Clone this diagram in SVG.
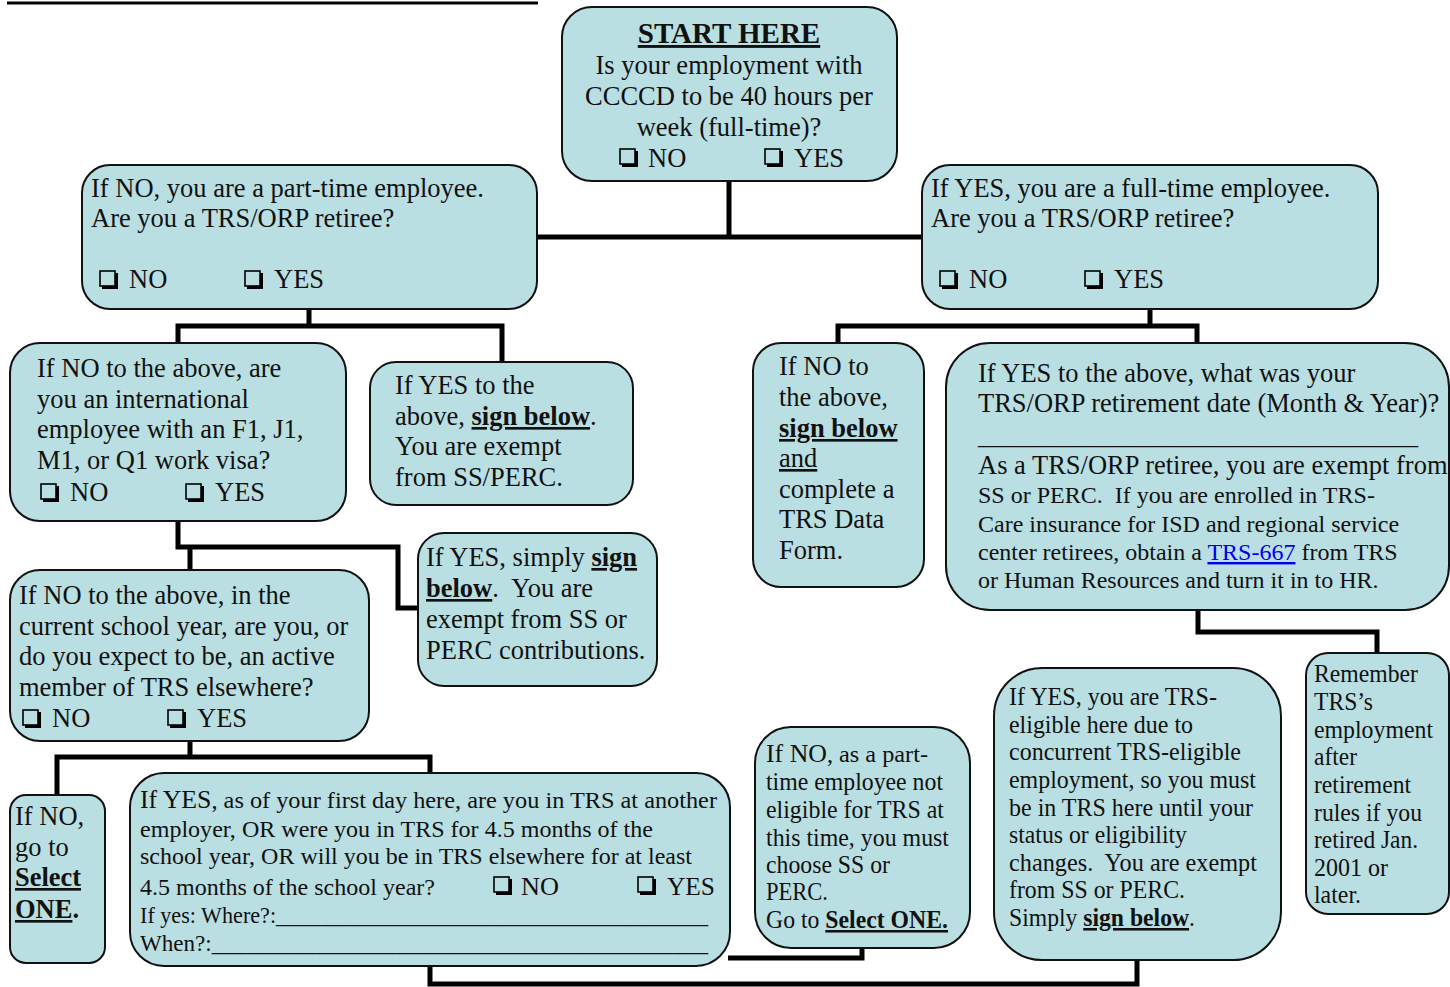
<svg xmlns="http://www.w3.org/2000/svg" xmlns:xlink="http://www.w3.org/1999/xlink" width="1450" height="987" viewBox="0 0 1450 987">
<style>
.box{fill:#b9dfe3;stroke:#111;stroke-width:2}
.t{font-family:"Liberation Serif","Times New Roman",serif;font-size:26.5px;fill:#111;white-space:pre}
.s{font-size:24px}
.c{font-family:"Liberation Serif","Times New Roman",serif;font-size:25.5px;fill:#111;white-space:pre}
.c24{font-size:24px}
.b{font-weight:bold}
.u{text-decoration:underline}
.lnk{fill:#0000ee;text-decoration:underline}
.con{fill:none;stroke:#000;stroke-width:5;stroke-linejoin:miter}
</style>
<defs>
<symbol id="cb" viewBox="0 0 20 20" width="20" height="20">
<rect x="1" y="1" width="15" height="15" fill="none" stroke="#000" stroke-width="1.6"/>
<path d="M3,17.5 H17.5 V3" fill="none" stroke="#000" stroke-width="3"/>
</symbol>
</defs>
<rect width="1450" height="987" fill="#fff"/>
<line x1="7" y1="3" x2="538" y2="3" stroke="#000" stroke-width="3"/>

<g id="connectors" class="con">
<path d="M729,181 V237 M537,237 H922"/>
<path d="M309,309 V326 M178,343 V326 H502 V362"/>
<path d="M1150,309 V326 M838,343 V326 H1197 V343"/>
<path d="M178,521 V547 H398 V608 H418 M190,547 V570"/>
<path d="M190,741 V757 M57,795 V757 H430 V773"/>
<path d="M1198,610 V632 H1377 V653"/>
<path d="M430,966 V984 H1137 V960"/>
<path d="M728,958 H862 V948"/>
</g>

<g id="start">
<rect class="box" x="562" y="7" width="335" height="174" rx="30"/>
<text class="t b u" x="729" y="43" text-anchor="middle" style="font-size:29px">START HERE</text>
<text class="t" x="729" y="74" text-anchor="middle">Is your employment with</text>
<text class="t" x="729" y="105" text-anchor="middle">CCCCD to be 40 hours per</text>
<text class="t" x="729" y="136" text-anchor="middle">week (full-time)?</text>
<use href="#cb" x="619" y="148"/><text class="t" x="648" y="167">NO</text>
<use href="#cb" x="764" y="148"/><text class="t" x="794" y="167">YES</text>
</g>

<g id="parttime">
<rect class="box" x="82" y="165" width="455" height="144" rx="28"/>
<text class="t" x="91" y="197">If NO, you are a part-time employee.</text>
<text class="t" x="91" y="227">Are you a TRS/ORP retiree?</text>
<use href="#cb" x="99" y="270"/><text class="t" x="129" y="288">NO</text>
<use href="#cb" x="244" y="270"/><text class="t" x="274" y="288">YES</text>
</g>

<g id="fulltime">
<rect class="box" x="922" y="165" width="456" height="144" rx="28"/>
<text class="t" x="931" y="197">If YES, you are a full-time employee.</text>
<text class="t" x="931" y="227">Are you a TRS/ORP retiree?</text>
<use href="#cb" x="939" y="270"/><text class="t" x="969" y="288">NO</text>
<use href="#cb" x="1084" y="270"/><text class="t" x="1114" y="288">YES</text>
</g>

<g id="intl">
<rect class="box" x="10" y="343" width="336" height="178" rx="30"/>
<text class="t" x="37" y="377">If NO to the above, are</text>
<text class="t" x="37" y="408">you an international</text>
<text class="t" x="37" y="438">employee with an F1, J1,</text>
<text class="t" x="37" y="469">M1, or Q1 work visa?</text>
<use href="#cb" x="40" y="483"/><text class="t" x="70" y="501">NO</text>
<use href="#cb" x="185" y="483"/><text class="t" x="215" y="501">YES</text>
</g>

<g id="pt-retiree-yes">
<rect class="box" x="370" y="362" width="263" height="143" rx="26"/>
<text class="t" x="395" y="394">If YES to the</text>
<text class="t" x="395" y="425">above, <tspan class="b u">sign below</tspan>.</text>
<text class="t" x="395" y="455">You are exempt</text>
<text class="t" x="395" y="486">from SS/PERC.</text>
</g>

<g id="intl-yes">
<rect class="box" x="418" y="533" width="239" height="153" rx="26"/>
<text class="t" x="426" y="566">If YES, simply <tspan class="b u">sign</tspan></text>
<text class="t" x="426" y="597"><tspan class="b u">below</tspan>.  You are</text>
<text class="t" x="426" y="628">exempt from SS or</text>
<text class="t" x="426" y="659">PERC contributions.</text>
</g>

<g id="trs-elsewhere">
<rect class="box" x="10" y="570" width="359" height="171" rx="30"/>
<text class="t" x="19" y="604">If NO to the above, in the</text>
<text class="t" x="19" y="635">current school year, are you, or</text>
<text class="t" x="19" y="665">do you expect to be, an active</text>
<text class="t" x="19" y="696">member of TRS elsewhere?</text>
<use href="#cb" x="22" y="709"/><text class="t" x="52" y="727">NO</text>
<use href="#cb" x="167" y="709"/><text class="t" x="197" y="727">YES</text>
</g>

<g id="goto-select">
<rect class="box" x="10" y="795" width="95" height="168" rx="16"/>
<text class="t" x="15" y="825">If NO,</text>
<text class="t" x="15" y="856">go to</text>
<text class="t b u" x="15" y="886" textLength="66" lengthAdjust="spacingAndGlyphs">Select</text>
<text class="t b" x="15" y="918" textLength="64" lengthAdjust="spacingAndGlyphs"><tspan class="u">ONE</tspan>.</text>
</g>

<g id="trs-details">
<rect class="box" x="130" y="773" width="600" height="193" rx="34"/>
<text class="c" x="140" y="808" textLength="577" lengthAdjust="spacingAndGlyphs">If YES<tspan class="c24">, as of your first day here, are you in TRS at another</tspan></text>
<text class="c c24" x="140" y="837" textLength="513" lengthAdjust="spacingAndGlyphs">employer, OR were you in TRS for 4.5 months of the</text>
<text class="c c24" x="140" y="864" textLength="552" lengthAdjust="spacingAndGlyphs">school year, OR will you be in TRS elsewhere for at least</text>
<text class="c c24" x="140" y="895" textLength="295" lengthAdjust="spacingAndGlyphs">4.5 months of the school year?</text>
<use href="#cb" x="493" y="876"/><text class="c" x="521" y="895" textLength="38" lengthAdjust="spacingAndGlyphs">NO</text>
<use href="#cb" x="637" y="876"/><text class="c" x="667" y="895" textLength="48" lengthAdjust="spacingAndGlyphs">YES</text>
<text class="c c24" x="140" y="923" textLength="568" lengthAdjust="spacingAndGlyphs">If yes: Where?:_______________________________________</text>
<text class="c c24" x="140" y="951" textLength="568" lengthAdjust="spacingAndGlyphs">When?:___________________________________________</text>
</g>

<g id="not-eligible">
<rect class="box" x="755" y="727" width="215" height="221" rx="36"/>
<text class="c" x="766" y="762" textLength="162" lengthAdjust="spacingAndGlyphs">If NO<tspan class="c24">, as a part-</tspan></text>
<text class="c" x="766" y="790" textLength="177" lengthAdjust="spacingAndGlyphs">time employee not</text>
<text class="c" x="766" y="818" textLength="178" lengthAdjust="spacingAndGlyphs">eligible for TRS at</text>
<text class="c" x="766" y="846" textLength="183" lengthAdjust="spacingAndGlyphs">this time, you must</text>
<text class="c" x="766" y="873" textLength="124" lengthAdjust="spacingAndGlyphs">choose SS or</text>
<text class="c" x="766" y="900" textLength="62" lengthAdjust="spacingAndGlyphs">PERC.</text>
<text class="c" x="766" y="928" textLength="182" lengthAdjust="spacingAndGlyphs">Go to <tspan class="b u">Select ONE.</tspan></text>
</g>

<g id="concurrent">
<rect class="box" x="994" y="668" width="287" height="292" rx="48"/>
<text class="c" x="1009" y="705" textLength="208" lengthAdjust="spacingAndGlyphs">If YES, you are TRS-</text>
<text class="c" x="1009" y="733" textLength="184" lengthAdjust="spacingAndGlyphs">eligible here due to</text>
<text class="c" x="1009" y="760" textLength="232" lengthAdjust="spacingAndGlyphs">concurrent TRS-eligible</text>
<text class="c" x="1009" y="788" textLength="247" lengthAdjust="spacingAndGlyphs">employment, so you must</text>
<text class="c" x="1009" y="816" textLength="244" lengthAdjust="spacingAndGlyphs">be in TRS here until your</text>
<text class="c" x="1009" y="843" textLength="178" lengthAdjust="spacingAndGlyphs">status or eligibility</text>
<text class="c" x="1009" y="871" textLength="248" lengthAdjust="spacingAndGlyphs">changes.  You are exempt</text>
<text class="c" x="1009" y="898" textLength="176" lengthAdjust="spacingAndGlyphs">from SS or PERC.</text>
<text class="c" x="1009" y="926" textLength="186" lengthAdjust="spacingAndGlyphs">Simply <tspan class="b u">sign below</tspan>.</text>
</g>

<g id="remember">
<rect class="box" x="1306" y="653" width="143" height="261" rx="22"/>
<text class="c" x="1314" y="682" textLength="104" lengthAdjust="spacingAndGlyphs">Remember</text>
<text class="c" x="1314" y="710" textLength="59" lengthAdjust="spacingAndGlyphs">TRS’s</text>
<text class="c" x="1314" y="738" textLength="119" lengthAdjust="spacingAndGlyphs">employment</text>
<text class="c" x="1314" y="765" textLength="43" lengthAdjust="spacingAndGlyphs">after</text>
<text class="c" x="1314" y="793" textLength="97" lengthAdjust="spacingAndGlyphs">retirement</text>
<text class="c" x="1314" y="821" textLength="108" lengthAdjust="spacingAndGlyphs">rules if you</text>
<text class="c" x="1314" y="848" textLength="104" lengthAdjust="spacingAndGlyphs">retired Jan.</text>
<text class="c" x="1314" y="876" textLength="74" lengthAdjust="spacingAndGlyphs">2001 or</text>
<text class="c" x="1314" y="903" textLength="47" lengthAdjust="spacingAndGlyphs">later.</text>
</g>

<g id="ft-retiree-no">
<rect class="box" x="753" y="343" width="171" height="244" rx="28"/>
<text class="t" x="779" y="375">If NO to</text>
<text class="t" x="779" y="406">the above,</text>
<text class="t b u" x="779" y="437">sign below</text>
<text class="t u" x="779" y="467">and</text>
<text class="t" x="779" y="498">complete a</text>
<text class="t" x="779" y="528">TRS Data</text>
<text class="t" x="779" y="559">Form.</text>
</g>

<g id="ft-retiree-yes">
<rect class="box" x="946" y="343" width="503" height="267" rx="44"/>
<text class="t" x="978" y="382">If YES to the above, what was your</text>
<text class="t" x="978" y="412">TRS/ORP retirement date (Month &amp; Year)?</text>
<text class="t" x="978" y="444" textLength="440" lengthAdjust="spacingAndGlyphs">_________________________________</text>
<text class="t" x="978" y="474">As a TRS/ORP retiree, you are exempt from</text>
<text class="t s" x="978" y="503">SS or PERC.  If you are enrolled in TRS-</text>
<text class="t s" x="978" y="532">Care insurance for ISD and regional service</text>
<text class="t s" x="978" y="560">center retirees, obtain a <tspan class="lnk">TRS-667</tspan> from TRS</text>
<text class="t s" x="978" y="588">or Human Resources and turn it in to HR.</text>
</g>
</svg>
